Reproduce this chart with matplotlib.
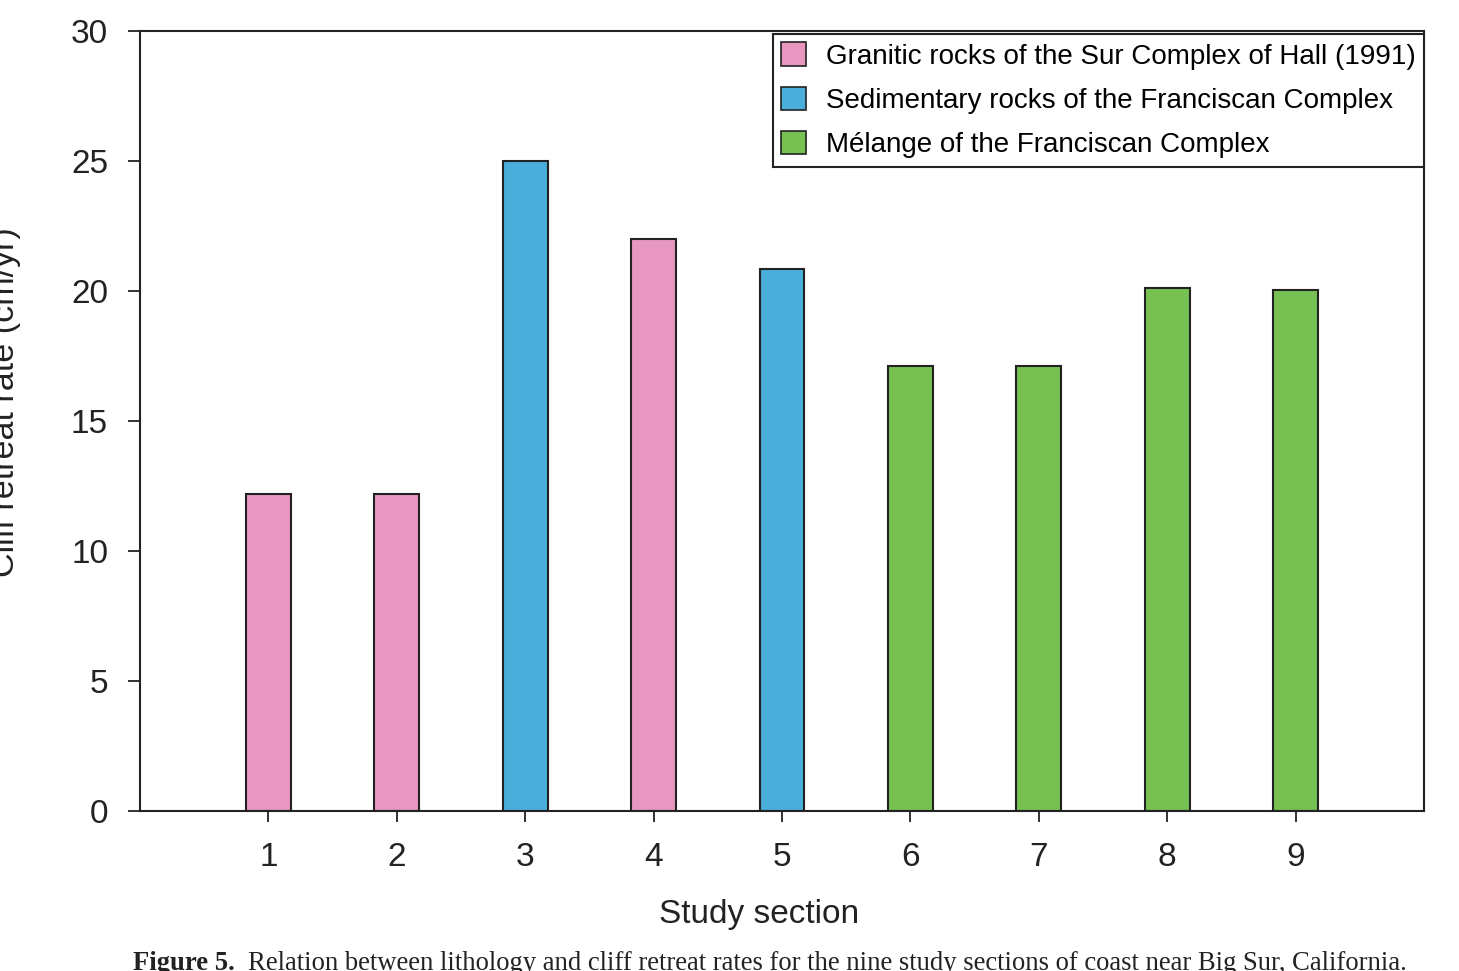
import matplotlib
matplotlib.use("Agg")
import matplotlib.pyplot as plt
from matplotlib.patches import Patch

matplotlib.rcParams['font.family'] = ['Liberation Sans', 'DejaVu Sans']

# data
sections = [1, 2, 3, 4, 5, 6, 7, 8, 9]
retreat = [12.2, 12.2, 25.0, 22.0, 20.85, 17.1, 17.1, 20.1, 20.05]
lithology = ["granitic", "granitic", "sedimentary", "granitic", "sedimentary",
             "melange", "melange", "melange", "melange"]

lith_style = {
    "granitic": ("#E897C0", "Granitic rocks of the Sur Complex of Hall (1991)"),
    "sedimentary": ("#4AAEDB", "Sedimentary rocks of the Franciscan Complex"),
    "melange": ("#76C151", "M\u00e9lange of the Franciscan Complex"),
}

fig = plt.figure(figsize=(14.59, 9.71), dpi=100)
ax = fig.add_axes([140 / 1459, 1 - 811 / 971, (1424 - 140) / 1459, (811 - 31) / 971])

colors = [lith_style[l][0] for l in lithology]
ax.bar(sections, retreat, width=0.35, color=colors, edgecolor="#222222", linewidth=1.5)

ax.set_xlim(0, 10)
ax.set_ylim(0, 30)
ax.set_xticks(sections)
ax.set_yticks([0, 5, 10, 15, 20, 25, 30])
ax.tick_params(axis="y", direction="out", length=9, width=1.3, pad=14, labelsize=24, colors="#222222")
ax.tick_params(axis="x", direction="out", length=8, width=1.3, pad=14, labelsize=24, colors="#222222")
for s in ax.spines.values():
    s.set_linewidth(1.5)
    s.set_color("#222222")

ax.set_xlabel("Study section", fontsize=24, labelpad=19, color="#222222")
ax.xaxis.label.set_x((759 - 140) / 1284)
fig.text(21 / 1459, 1 - 402 / 971, "Cliff retreat rate (cm/yr)", rotation=90,
         ha="right", va="center", fontsize=24.5, color="#222222")

handles = [Patch(facecolor=lith_style[k][0], edgecolor="#222222", linewidth=1.2, label=lith_style[k][1])
           for k in ["granitic", "sedimentary", "melange"]]
leg = ax.legend(handles=handles, loc="upper right", bbox_to_anchor=(1.0, 0.996),
                borderaxespad=0, fontsize=20, frameon=True, fancybox=False,
                handlelength=0.9, handleheight=0.9, handletextpad=0.7,
                labelspacing=0.62, borderpad=0.3)
leg.get_frame().set_edgecolor("#222222")
leg.get_frame().set_linewidth(1.5)
leg.get_frame().set_alpha(1)

fig.text(133 / 1459, 1 / 971, "Figure 5.", fontsize=19.2, fontweight="bold",
         family="Liberation Serif", ha="left", va="baseline", color="#222222")
fig.text(248 / 1459, 1 / 971,
         "Relation between lithology and cliff retreat rates for the nine study sections of coast near Big Sur, California.",
         fontsize=19.2, family="Liberation Serif", ha="left", va="baseline", color="#222222")

fig.savefig("out.png", dpi=100)
